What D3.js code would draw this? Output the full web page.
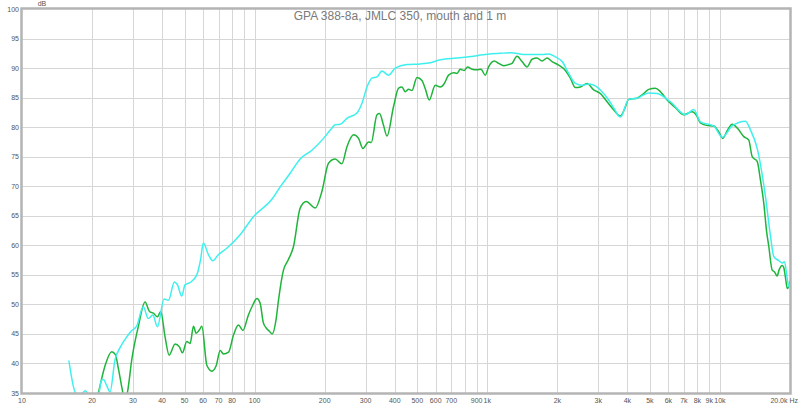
<!DOCTYPE html>
<html><head><meta charset="utf-8">
<script src="https://cdn.jsdelivr.net/npm/d3@7"></script>
<style>html,body{margin:0;padding:0;background:#fff;}svg{display:block;}</style>
</head><body>
<svg id="c" width="800" height="406"></svg>
<script>
const title = "GPA 388-8a, JMLC 350, mouth and 1 m";
const yTicks = [35,40,45,50,55,60,65,70,75,80,85,90,95,100];
const xGrid = [20,30,40,50,60,70,80,90,100,200,300,400,500,600,700,800,900,1000,2000,3000,4000,5000,6000,7000,8000,9000,10000];
const xLabelVals = [10,20,30,40,50,60,70,80,100,200,300,400,500,600,700,900,1000,2000,3000,4000,5000,6000,7000,8000,9000,10000];
const xLabelText = ["10","20","30","40","50","60","70","80","100","200","300","400","500","600","700","900","1k","2k","3k","4k","5k","6k","7k","8k","9k","10k"];

const cyanFreq = [15.9,17.0,17.8,18.7,19.4,20.5,21.3,22.0,22.4,23.1,23.9,25.1,26.5,28.2,29.5,31.1,33.2,34.9,36.5,38.2,40.8,42.6,45.2,46.6,48.6,50.2,52.8,56.4,58.5,60.2,63.3,66.1,69.8,75.9,86.6,98.8,118.6,128.8,142.1,156.9,176.2,197.7,211.3,222,233.2,249.3,275.2,289,303.9,319.2,335.5,352.4,376.3,402,451.5,514.9,568.5,627.9,740.8,873,933,1137,1266,1432,1720,1834,1961,2096,2237,2391,2555,2727,2914,3062,3324,3500,3733,4053,4405,4941,5370,6124,7108,7716,8246,9405,10220,11288,12876,13529,14454,15693,16494,17042,17904,18516,18943,19455,19767,20000];
const cyanDb = [40.5,35.0,34.6,35.4,34.5,33.5,34.5,37.2,37.3,36.3,35.2,40.6,42.8,44.5,45.5,46.3,49.6,47.6,48.2,46.2,50.9,50.7,53.8,53.3,51.4,53.3,53.7,55.0,57.5,60.4,58.4,57.4,58.4,59.5,61.8,64.85,67.8,69.9,72.2,74.6,76.1,78.1,79.5,80.4,80.5,81.5,82.4,84.0,86.8,88.3,88.5,89.5,88.8,90.0,90.6,90.7,90.9,91.4,91.7,92.0,92.2,92.5,92.6,92.3,92.3,92.4,91.9,91.1,89.1,87.4,87.1,87.3,87.0,86.3,84.6,83.2,81.7,84.7,84.9,85.8,85.7,84.3,82.1,83.0,80.9,80.2,78.3,80.2,81.0,79.5,76.4,68.2,61.5,58.1,57.4,57.0,57.2,54.4,53.0,53.5];

const greenFreq = [20.5,21.3,22.7,24.3,25.2,26.0,27.0,27.7,28.5,29.6,31.6,33.8,35.3,36.7,38.2,39.5,41.2,42.9,45.5,47.5,48.9,51.1,52.8,54.6,56.0,57.9,59.3,62.3,65.5,68.3,71.1,73.4,77.2,81.1,85.2,89.0,94.0,98.2,102.2,105.6,108.8,112.1,115.4,118.9,123.7,126.6,133.0,139.3,146.9,156.9,166.5,182.1,194.5,207.7,221.9,237.1,249.3,266.1,279.6,292.0,308.7,317.0,335.5,344.2,357.0,370.4,395.4,415.5,429.7,444.0,458.7,474.4,498.5,523.8,541.2,562.9,597.4,627.9,653.4,681.7,716.4,740.8,765.5,796.4,822.9,859.5,903.1,939.5,980.4,1013,1072,1118,1175,1235,1277,1342,1410,1482,1557,1636,1719,1806,1898,2026,2165,2275,2391,2512,2685,2866,3062,3272,3483,3733,3884,4053,4405,4642,4941,5280,5549,5928,6437,6988,7593,7924,8246,8748,9405,9851,10280,10772,11288,11891,12659,13301,13758,14454,14935,15432,15849,16214,16771,17158,17620,17939,18516,18813,19131,19455,19767,20000];
const greenDb = [32,35,39.5,42.0,41.5,39.0,35.5,33.5,35.5,40.5,46.2,50.4,48.8,48.5,47.9,48.8,44.5,41.4,43.3,42.8,41.8,43.7,43.4,46.3,45.1,45.7,46.3,39.7,38.7,39.6,42.2,41.6,41.9,44.8,46.5,45.6,48.2,49.9,51.0,50.2,47.0,46.0,45.5,45.0,47.5,50.7,55.8,57.5,59.8,66.3,67.4,66.3,69.1,73.9,74.6,73.8,76.7,78.7,78.1,76.4,77.5,77.4,82.1,82.3,80.5,78.5,83.5,86.6,86.8,86.0,86.4,86.2,88.4,87.9,86.5,84.6,87.1,86.8,87.4,88.8,89.2,89.1,89.8,89.6,90.2,89.8,89.7,89.8,88.8,90.2,91.2,90.8,90.4,90.6,90.8,92.0,91.1,90.2,91.5,91.7,91.2,91.7,91.1,90.5,89.6,88.3,86.7,86.8,87.4,86.3,85.7,84.3,83.0,81.9,83.0,84.7,84.9,85.5,86.4,86.6,86.0,84.6,83.3,82.1,82.6,82.0,80.7,80.3,80.2,79.3,78.1,79.5,80.5,79.8,78.4,77.8,75.0,74.2,71.0,67.1,62.5,59.8,55.8,55.5,54.8,55.8,56.6,56.2,54.5,52.7,53.0,54.0];

const svg = d3.select("#c");
const L = 22, R = 790, T = 9, B = 393;
const x = d3.scaleLog().domain([10, 20000]).range([L, R]);
const y = d3.scaleLinear().domain([35, 100]).range([B, T]);
const font = "'Liberation Sans', Arial, sans-serif";

// grid
svg.append("g").selectAll("line").data(yTicks.slice(1, -1)).join("line")
  .attr("x1", L).attr("x2", R).attr("y1", d => Math.round(y(d)) + 0.5).attr("y2", d => Math.round(y(d)) + 0.5)
  .attr("stroke", "#d6d6d6").attr("stroke-width", 1);
svg.append("g").selectAll("line").data(xGrid).join("line")
  .attr("y1", T).attr("y2", B).attr("x1", d => Math.round(x(d)) + 0.5).attr("x2", d => Math.round(x(d)) + 0.5)
  .attr("stroke", "#d6d6d6").attr("stroke-width", 1);

// clip
svg.append("clipPath").attr("id", "clip").append("rect")
  .attr("x", L).attr("y", T).attr("width", R - L).attr("height", B - T);

const line = d3.line().x(d => x(d[0])).y(d => y(d[1])).curve(d3.curveMonotoneX);
const green = d3.zip(greenFreq, greenDb).filter(d => d[0] !== undefined && d[1] !== undefined);
const cyan = d3.zip(cyanFreq, cyanDb).filter(d => d[0] !== undefined && d[1] !== undefined);
const g = svg.append("g").attr("clip-path", "url(#clip)");
g.append("path").datum(green).attr("d", line).attr("fill", "none")
  .attr("stroke", "#1fb43a").attr("stroke-width", 1.5).attr("stroke-linejoin", "round");
g.append("path").datum(cyan).attr("d", line).attr("fill", "none")
  .attr("stroke", "#3df0ee").attr("stroke-width", 1.5).attr("stroke-linejoin", "round");

// frame
svg.append("rect").attr("x", L - 0.5).attr("y", T - 0.5).attr("width", R - L + 1).attr("height", B - T + 1)
  .attr("fill", "none").attr("stroke", "#b4b4b4").attr("stroke-width", 2.5);

// y labels
svg.append("g").selectAll("text").data(yTicks).join("text")
  .attr("x", 19).attr("y", d => y(d) + 2.5).attr("text-anchor", "end")
  .attr("font-family", font).attr("font-size", 7).attr("fill", "#555").text(d => d);
svg.append("text").attr("x", 42).attr("y", 6).attr("text-anchor", "middle")
  .attr("font-family", font).attr("font-size", 7).attr("fill", "#555").text("dB");

// x labels
svg.append("g").selectAll("text").data(xLabelVals).join("text")
  .attr("x", d => x(d)).attr("y", 403).attr("text-anchor", "middle")
  .attr("font-family", font).attr("font-size", 7).attr("fill", "#555").text((d, i) => xLabelText[i]);
svg.append("text").attr("x", 798).attr("y", 403).attr("text-anchor", "end")
  .attr("font-family", font).attr("font-size", 7).attr("fill", "#555").text("20.0k Hz");

// title
svg.append("text").attr("x", 400).attr("y", 20).attr("text-anchor", "middle")
  .attr("font-family", font).attr("font-size", 12).attr("fill", "#7a7a7a").text(title);
</script>
</body></html>
